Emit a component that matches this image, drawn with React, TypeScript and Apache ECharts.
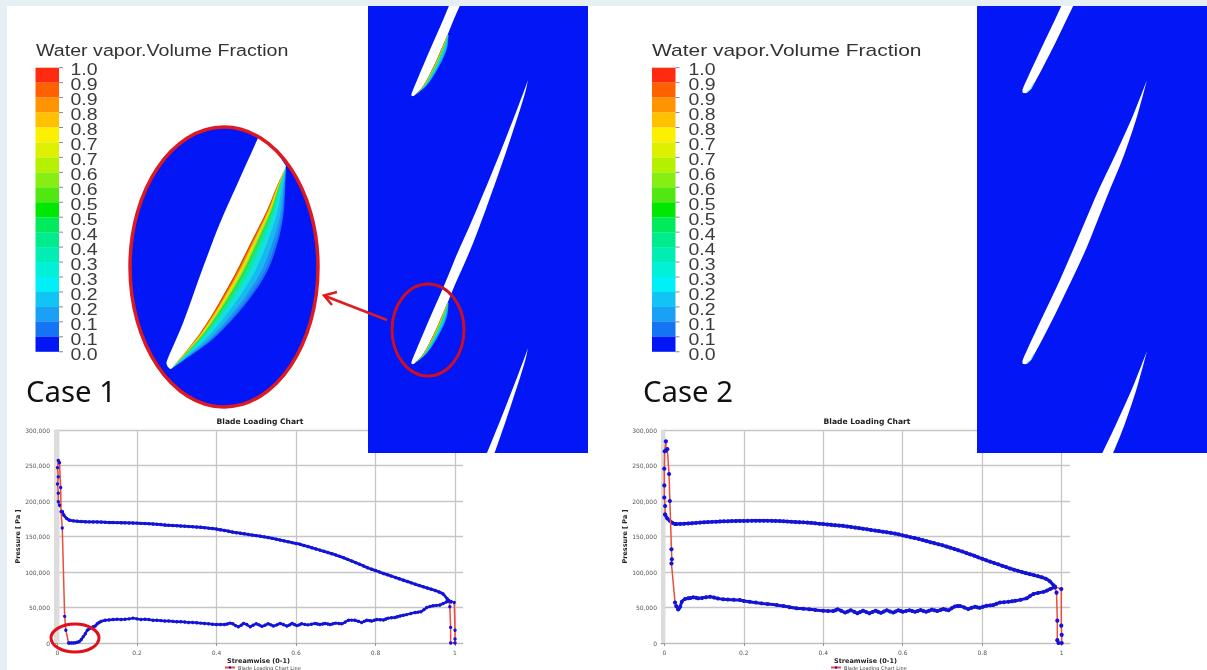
import React, { useEffect, useRef } from "react";
import * as echarts from "echarts";

const SERIES_NAME = "Blade Loading Chart Line";
const xTicks = [0, 0.2, 0.4, 0.6, 0.8, 1];
const legendLabels = ["1.0","0.9","0.9","0.8","0.8","0.7","0.7","0.6","0.6","0.5","0.5","0.4","0.4","0.3","0.3","0.2","0.2","0.1","0.1","0.0"];
const legendColors = ["#ff2a10","#ff6000","#ff9400","#ffc000","#fbf000","#dcf000","#b4f000","#86ee10","#50e810","#00e800","#00ea5c","#00ec8c","#00eeb4","#00f0d8","#00f0f8","#12c4f4","#1aa0f4","#1474f4","#0216f6"];

const stations = [0.03,0.04,0.05,0.06,0.07,0.08,0.09,0.1,0.11,0.12,0.13,0.14,0.15,0.16,0.17,0.18,0.19,0.2,0.21,0.22,0.23,0.24,0.25,0.26,0.27,0.28,0.29,0.3,0.31,0.32,0.33,0.34,0.35,0.36,0.37,0.38,0.39,0.4,0.41,0.42,0.43,0.44,0.45,0.46,0.47,0.48,0.49,0.5,0.51,0.52,0.53,0.54,0.55,0.56,0.57,0.58,0.59,0.6,0.61,0.62,0.63,0.64,0.65,0.66,0.67,0.68,0.69,0.7,0.71,0.72,0.73,0.74,0.75,0.76,0.77,0.78,0.79,0.8,0.81,0.82,0.83,0.84,0.85,0.86,0.87,0.88,0.89,0.9,0.91,0.92,0.93,0.94,0.95,0.96,0.97,0.98];
// pressures in kPa
const case1Upper = [173,172,171.5,171,170.8,170.6,170.5,170.5,170.3,170,169.8,169.6,169.5,169.4,169.3,169.1,169,168.8,168.5,168.2,168,167.6,167.2,166.8,166.2,165.8,165.5,165.2,164.8,164.5,164.2,163.8,163.3,163,162.4,161.8,161.2,160.5,159.5,158.5,157.5,156.3,155.4,154.6,153.8,152.9,152,151.2,150.4,149.5,148.5,147.4,146.3,145,143.8,142.6,141.4,140.2,139,137.4,135.8,134.2,132.5,130.8,129.1,127.5,125.8,124,122,120,117.8,115.5,113.2,110.8,108.5,106,104,102,100,98,96.1,94.2,92.3,90.4,88.5,86.6,84.7,82.8,81,79.2,77.5,75.8,74,71.8,69,62.5];
const case2Upper = [167.5,167.8,168,168.4,168.8,169.2,169.6,170,170.3,170.6,170.9,171.2,171.4,171.6,171.8,171.9,172,172,172.1,172.2,172.3,172.3,172.3,172.2,172.1,172,171.7,171.4,171.1,170.8,170.5,170.2,169.9,169.6,169.2,168.6,168,167.5,167,166.4,165.9,165.4,165,164.2,163.4,162.6,161.8,161,160.2,159.3,158.4,157.6,156.8,156,155.1,154.1,153,151.6,150.3,149,147.8,146.5,145,143.5,142,140.6,139.1,137.6,135.8,134.2,132.4,130.6,128.8,126.8,124.8,122.8,120.6,118.6,116.6,114.6,112.6,110.8,108.8,107,105,103.3,101.6,100,98.4,97,95.6,94.2,92.6,90.6,87,81];
const case1UpperHead = [[0.012,185],[0.016,180],[0.023,175.5]];
const case1UpperTail = [[0.985,59.5],[0.99,58]];
const case2UpperHead = [[0.002,181],[0.0075,175.5],[0.014,172],[0.02,169.5],[0.027,167.5]];
const case2UpperTail = [[0.983,79]];
const case1Lower = [[0.03,0],[0.035,0],[0.04,0],[0.045,0.3],[0.05,1],[0.055,2.2],[0.06,5],[0.065,9],[0.07,13],[0.075,18],[0.08,20],[0.085,21.5],[0.09,23],[0.095,24],[0.1,27],[0.105,29],[0.11,30.5],[0.12,32],[0.13,32.5],[0.14,33],[0.15,33.5],[0.16,33],[0.17,33.5],[0.18,34],[0.19,35],[0.2,34],[0.21,33],[0.22,33.5],[0.23,33],[0.24,32],[0.25,32],[0.26,31.5],[0.27,31],[0.28,31],[0.29,30.5],[0.3,30],[0.31,30],[0.32,29.5],[0.33,29],[0.34,29],[0.35,28.5],[0.36,28],[0.37,27.5],[0.38,27],[0.39,26.5],[0.4,26],[0.41,26],[0.42,26],[0.427,26.8],[0.434,28],[0.441,27],[0.448,24.5],[0.455,23],[0.462,25],[0.468,27.5],[0.476,26],[0.485,23],[0.492,25],[0.5,27],[0.507,25.5],[0.514,23.5],[0.522,25],[0.53,27],[0.537,25.5],[0.543,24],[0.552,25.5],[0.56,27.5],[0.568,26],[0.577,24],[0.584,25.5],[0.59,27.5],[0.596,26],[0.602,24.5],[0.608,25.5],[0.614,27],[0.622,26.2],[0.63,25.5],[0.639,26.5],[0.648,27.5],[0.654,26.8],[0.66,26],[0.667,26.8],[0.673,27.5],[0.68,26.8],[0.686,26],[0.693,27],[0.7,28],[0.708,27.5],[0.715,27],[0.724,29.5],[0.732,32],[0.74,32.2],[0.748,32],[0.757,30.5],[0.765,29],[0.772,30.5],[0.778,32],[0.785,31.5],[0.79,31],[0.797,32],[0.803,33],[0.812,32.8],[0.82,32.5],[0.826,33.8],[0.832,35],[0.84,35.5],[0.849,36],[0.855,37],[0.862,38],[0.87,39],[0.878,40],[0.889,41.5],[0.9,43],[0.907,43.5],[0.914,44],[0.922,47],[0.929,50],[0.937,51.3],[0.945,52.5],[0.953,53],[0.962,53.5],[0.97,55.5],[0.979,58],[0.985,59]];
const case2Lower = [[0.035,47.5],[0.04,51],[0.044,58],[0.052,62],[0.06,63],[0.066,63.5],[0.073,64.5],[0.08,63.8],[0.085,63],[0.095,63.5],[0.105,64.5],[0.115,65],[0.125,64],[0.135,62.8],[0.148,61.5],[0.16,61.2],[0.175,60.8],[0.19,60.5],[0.2,59.2],[0.215,58],[0.23,57],[0.245,55.8],[0.26,55],[0.283,53.5],[0.3,52],[0.315,50.5],[0.333,49],[0.35,48.3],[0.365,47.5],[0.38,46.5],[0.4,45.5],[0.412,45.2],[0.425,45],[0.431,46.2],[0.436,47.5],[0.445,45.5],[0.455,43],[0.462,44.5],[0.469,46],[0.478,44],[0.486,42],[0.493,43.8],[0.5,45.5],[0.508,43.8],[0.516,42],[0.524,43.8],[0.532,45.5],[0.538,44],[0.545,42.5],[0.552,44.2],[0.56,46],[0.568,44.5],[0.576,43],[0.582,44.5],[0.589,46],[0.595,45],[0.6,44],[0.608,45],[0.617,46],[0.624,45],[0.631,44],[0.638,45.2],[0.645,46.5],[0.652,45.2],[0.659,44],[0.666,45.5],[0.673,47],[0.68,46],[0.687,45],[0.695,46.5],[0.702,48],[0.708,47],[0.715,46],[0.723,48.8],[0.731,51.5],[0.738,52],[0.744,52],[0.755,50],[0.765,48],[0.773,49.5],[0.782,51],[0.788,50.2],[0.794,49.5],[0.802,51],[0.811,52.5],[0.82,53],[0.828,53.5],[0.836,55.2],[0.845,57],[0.855,57.5],[0.866,58],[0.875,58.8],[0.883,59.5],[0.897,61],[0.912,63],[0.92,66],[0.929,69],[0.94,70.5],[0.954,72],[0.963,74],[0.971,76],[0.983,78.5]];
// leading-edge and trailing-edge legs, drawn with the red line
const case1Le = [[0.012,185],[0.005,194],[0.002,199],[0.002,211],[0,224],[0.002,234],[0,247],[0.002,257],[0.005,254],[0.008,219],[0.009,185],[0.012,162],[0.018,37.5],[0.021,18],[0.028,0]];
const case1Te = [[0.985,59],[0.987,51],[0.989,22],[0.989,0],[1,0],[1,5.6],[1,18],[0.998,57],[0.99,58]];
const case2Le = [[0.002,181],[0.002,193],[0,205],[0,222],[0,245.5],[0.001,270],[0.004,284],[0.004,271],[0.0075,273],[0.012,238],[0.014,200],[0.018,132],[0.019,118],[0.018,112],[0.027,57],[0.03,52],[0.035,47.5]];
const case2Te = [[0.983,78.5],[0.987,71],[0.989,31.5],[0.989,4],[0.992,0],[1,0],[1,11.5],[0.999,24.5],[0.999,76],[0.983,79]];

const toPa = (p: number[][]) => p.map(([x, k]) => [x, k * 1000]);
const withStations = (vals: number[]) => stations.map((x, i) => [x, vals[i]]);

type Pt = [number, number];
const BLUE = "#0216f6";
const Z = 100;

function clipY(points: Pt[], yMin: number, yMax: number): Pt[] {
  const clip = (pts: Pt[], inside: (p: Pt) => boolean, limit: number) => {
    const out: Pt[] = [];
    pts.forEach((p, i) => {
      const q = pts[(i + 1) % pts.length];
      if (inside(p)) out.push(p);
      if (inside(p) !== inside(q)) {
        const t = (limit - p[1]) / (q[1] - p[1]);
        out.push([p[0] + t * (q[0] - p[0]), limit]);
      }
    });
    return out;
  };
  return clip(clip(points, (p) => p[1] >= yMin, yMin), (p) => p[1] <= yMax, yMax);
}

// Catmull-Rom rounding of the outline drawings (blade silhouettes, not chart data)
function round(pts: Pt[], n = 6): Pt[] {
  const out: Pt[] = [];
  for (let i = 0; i < pts.length - 1; i++) {
    const p0 = pts[Math.max(i - 1, 0)];
    const p1 = pts[i];
    const p2 = pts[i + 1];
    const p3 = pts[Math.min(i + 2, pts.length - 1)];
    for (let k = 0; k < n; k++) {
      const t = k / n;
      const f = (a: number, b: number, c: number, d: number) =>
        0.5 * (2 * b + (c - a) * t + (2 * a - 5 * b + 4 * c - d) * t * t + (3 * b - a - 3 * c + d) * t * t * t);
      out.push([f(p0[0], p1[0], p2[0], p3[0]), f(p0[1], p1[1], p2[1], p3[1])]);
    }
  }
  out.push(pts[pts.length - 1]);
  return out;
}

const blade1Left: Pt[] = [[0,1],[-0.5,-1],[3,-10],[17,-43],[31.5,-76],[45.5,-110],[58,-138],[72,-171],[86,-205],[99,-238],[110.5,-268],[116,-283]];
const blade1Right: Pt[] = [[116,-283],[112.5,-268],[103,-238],[92,-205],[80,-171],[68,-138],[57,-110],[42,-76],[28.5,-43],[12,-10],[3,0],[0,1]];
const blade2Left: Pt[] = [[0,1],[-0.5,-2],[2.7,-10],[18,-43],[33.7,-76],[48.7,-110],[62.7,-143],[76.5,-175],[88.5,-200],[100,-225],[111,-250],[124,-283]];
const blade2Right: Pt[] = [[124,-283],[115,-250],[107,-225],[98,-200],[87.5,-175],[74.7,-143],[61.3,-110],[45.3,-76],[29.3,-43],[12,-10],[5,0],[0,1]];
const blade1 = [...round(blade1Left), ...round(blade1Right)];
const blade2 = [...round(blade2Left), ...round(blade2Right)];

const bandFractions: [number, string][] = [[1,"#1a6cf5"],[0.92,"#2090f0"],[0.8,"#18b8f0"],[0.6,"#14e0e0"],[0.42,"#10e8a0"],[0.3,"#30e040"],[0.22,"#b0e820"],[0.16,"#f0e000"],[0.1,"#f09000"],[0.05,"#e83a10"]];

const bandPolys = (edge: Pt[], outer: Pt[], z: number) =>
  bandFractions.map(([f, color], k) => ({
    type: "polygon",
    z: z + k,
    silent: true,
    shape: {
      points: [
        ...outer.map((o, i) => [edge[i][0] + f * (o[0] - edge[i][0]), edge[i][1] + f * (o[1] - edge[i][1])]),
        ...edge.slice().reverse(),
      ],
    },
    style: { fill: color, stroke: null },
  }));

const shift = (pts: Pt[], dx: number, dy: number): Pt[] => pts.map(([x, y]) => [x + dx, y + dy]);

const panelEdge = round([[3,0],[12,-10],[22.5,-30],[29.5,-46],[35.5,-60]]);
const panelOuter = round([[3,0],[16,-11],[28,-30],[35,-46],[36.5,-60]]);
const lensEdgeRaw: Pt[] = [[171,369],[187,350],[200,333],[213,313],[225,292],[237,270],[252,240],[267,210],[276,188],[286,166]];
const lensEdge = round(lensEdgeRaw);
const lensOuter = round([[171,369],[193,354],[212,340],[232,320],[251,297],[267,272],[277,245],[283,218],[285,192],[286,166]]);
const lensBladeLeft = round([[170,369],[167,365],[168,358],[183,323],[201,273],[220,223],[240,178],[258,138]]);
const lensBlade: Pt[] = [...lensBladeLeft, [274,148], ...lensEdge.slice().reverse()];

function buildGraphic() {
  const els: any[] = [];
  const add = (e: any) => els.push({ silent: true, z: Z, ...e });
  add({ type: "rect", shape: { x: 368, y: 6, width: 220, height: 447 }, style: { fill: BLUE } });
  add({ type: "rect", shape: { x: 977, y: 6, width: 230, height: 447 }, style: { fill: BLUE } });

  // Case 1 blades
  [-268, 0, 268].forEach((dy) => {
    add({ type: "polygon", z: Z + 2, shape: { points: clipY(shift(blade1, 412, 363 + dy), 6, 453) }, style: { fill: "#ffffff" } });
  });
  [-268, 0].forEach((dy) => {
    els.push(...bandPolys(shift(panelEdge, 412, 363 + dy), shift(panelOuter, 412, 363 + dy), Z + 3));
  });
  // Case 2 blades
  [-271, 0, 271].forEach((dy) => {
    add({ type: "polygon", z: Z + 2, shape: { points: clipY(shift(blade2, 1023, 363 + dy), 6, 453) }, style: { fill: "#ffffff" } });
  });
  [-271, 0].forEach((dy) => {
    add({ type: "polyline", z: Z + 3, shape: { points: shift([[4,0],[8,-3],[11,-9]], 1023, 363 + dy) }, style: { stroke: "#55e6d8", lineWidth: 1, fill: "none" } });
  });

  // magnified lens
  add({ type: "ellipse", z: Z + 15, shape: { cx: 224, cy: 267, rx: 94, ry: 140 }, style: { fill: BLUE } });
  els.push(...bandPolys(lensEdge, lensOuter, Z + 16));
  add({ type: "polygon", z: Z + 27, shape: { points: lensBlade }, style: { fill: "#ffffff" } });
  add({ type: "ellipse", z: Z + 28, shape: { cx: 224, cy: 267, rx: 94, ry: 140 }, style: { fill: "none", stroke: "#dc1a22", lineWidth: 3.5 } });
  // small lens, arrow, chart marker
  add({ type: "ellipse", z: Z + 28, shape: { cx: 428, cy: 330, rx: 36, ry: 46 }, style: { fill: "none", stroke: "#c81028", lineWidth: 3 } });
  add({ type: "line", z: Z + 28, shape: { x1: 387, y1: 320, x2: 325, y2: 296 }, style: { stroke: "#e01c1c", lineWidth: 2.5 } });
  add({ type: "polyline", z: Z + 28, shape: { points: [[337, 292], [324, 295.5], [332, 305]] }, style: { stroke: "#e01c1c", lineWidth: 2.5, fill: "none" } });
  add({ type: "ellipse", z: Z + 28, shape: { cx: 75, cy: 638, rx: 24, ry: 14 }, style: { fill: "none", stroke: "#e0101a", lineWidth: 3 } });

  // colour bars
  [{ bar: 35.5, lab: 70.5, title: 36, sx: 1.155 }, { bar: 652, lab: 688.5, title: 652, sx: 1.234 }].forEach((c) => {
    legendColors.forEach((color, i) => {
      add({ type: "rect", shape: { x: c.bar, y: 67.7 + i * 14.95, width: 23.5, height: 15 }, style: { fill: color } });
    });
    legendLabels.forEach((t, i) => {
      add({ type: "line", shape: { x1: c.bar + 23.5, y1: 67.7 + i * 14.95, x2: c.bar + 27.5, y2: 67.7 + i * 14.95 }, style: { stroke: "#888888", lineWidth: 1 } });
      add({ type: "text", x: c.lab, y: 70 + i * 14.95, scaleX: 1.18, style: { text: t, fontFamily: "Liberation Sans", fontSize: 16.5, fill: "#3c3c3c", align: "left", verticalAlign: "middle" } });
    });
    add({ type: "text", x: c.title, y: 50, scaleX: c.sx, style: { text: "Water vapor.Volume Fraction", fontFamily: "Liberation Sans", fontSize: 17, fill: "#333333", align: "left", verticalAlign: "middle" } });
  });
  add({ type: "text", x: 26, y: 391, style: { text: "Case 1", fontFamily: "Noto Sans", fontSize: 29.3, fill: "#111111", align: "left", verticalAlign: "middle" } });
  add({ type: "text", x: 643, y: 391, style: { text: "Case 2", fontFamily: "Noto Sans", fontSize: 29.3, fill: "#111111", align: "left", verticalAlign: "middle" } });

  // page frame
  add({ type: "rect", z: Z + 40, shape: { x: 0, y: 0, width: 1207, height: 6 }, style: { fill: "#e6f0f4" } });
  add({ type: "rect", z: Z + 40, shape: { x: 0, y: 0, width: 7, height: 670 }, style: { fill: "#e6f0f4" } });
  return els;
}

const LINE_BLUE = "#1414d8";
const LINE_RED = "#ee4a3e";
const AXIS_FONT = { fontFamily: "DejaVu Sans", fontSize: 6, color: "#555555" };

const xAxisFor = (gridIndex: number, min: number, max: number) => ({
  type: "value",
  gridIndex,
  min,
  max,
  name: "Streamwise (0-1)",
  nameLocation: "middle",
  nameGap: 14,
  nameTextStyle: { fontFamily: "DejaVu Sans", fontSize: 6.5, fontWeight: "bold", color: "#222222" },
  axisLine: { onZero: false, lineStyle: { color: "#bdbdbd", width: 1.2 } },
  axisTick: { show: true, length: 3, customValues: xTicks, lineStyle: { color: "#999999" } },
  axisLabel: { ...AXIS_FONT, margin: 6, customValues: xTicks, showMinLabel: true, showMaxLabel: true },
  splitLine: { show: true, lineStyle: { color: "#c6c6c6", width: 1.3 } },
});
const yAxisFor = (gridIndex: number, xName: number) => ({
  type: "value",
  gridIndex,
  min: 0,
  max: 300000,
  interval: 50000,
  name: "Pressure [ Pa ]",
  nameLocation: "middle",
  nameGap: xName,
  nameTextStyle: { fontFamily: "DejaVu Sans", fontSize: 6.5, fontWeight: "bold", color: "#222222" },
  axisLine: { show: true, lineStyle: { color: "#bdbdbd", width: 1.2 } },
  axisTick: { show: true, length: 3, lineStyle: { color: "#999999" } },
  minorTick: { show: true, splitNumber: 5, length: 2, lineStyle: { color: "#aaaaaa" } },
  axisLabel: { ...AXIS_FONT, margin: 4 },
  splitLine: { show: true, lineStyle: { color: "#c6c6c6", width: 1.3 } },
});

const curve = (idx: number, name: string, data: number[][], size: number, width: number) => ({
  type: "line",
  name,
  xAxisIndex: idx,
  yAxisIndex: idx,
  data,
  smooth: 0.3,
  symbol: "circle",
  symbolSize: size,
  showSymbol: true,
  showAllSymbol: true,
  lineStyle: { color: LINE_BLUE, width },
  itemStyle: { color: LINE_BLUE },
  z: 4,
});
const legs = (idx: number, data: number[][], size: number, band: number, zone: boolean) => ({
  type: "line",
  name: SERIES_NAME,
  xAxisIndex: idx,
  yAxisIndex: idx,
  data,
  symbol: "circle",
  symbolSize: size,
  showSymbol: true,
  showAllSymbol: true,
  lineStyle: { color: LINE_RED, width: 1.5 },
  itemStyle: { color: LINE_BLUE },
  z: 5,
  ...(zone
    ? { markArea: { silent: true, itemStyle: { color: "#dcdcdc" }, data: [[{ xAxis: -0.0088 }, { xAxis: band }]] } }
    : {}),
});

export default function App() {
  const ref = useRef<HTMLDivElement>(null);
  useEffect(() => {
    document.body.style.margin = "0";
    const chart = echarts.init(ref.current!, undefined, { renderer: "svg" });
    const titleStyle = { fontFamily: "DejaVu Sans", fontSize: 7.6, fontWeight: "bold", color: "#222222" };
    const legendStyle = {
      data: [SERIES_NAME],
      itemWidth: 10,
      itemHeight: 3,
      itemGap: 2,
      padding: 0,
      textStyle: { fontFamily: "DejaVu Sans", fontSize: 5, color: "#444444", padding: [0, 0, 0, -2] },
      selectedMode: false,
    };
    chart.setOption({
      animation: false,
      backgroundColor: "#ffffff",
      title: [
        { text: "Blade Loading Chart", left: 260, top: 417, textAlign: "center", padding: 0, textStyle: titleStyle },
        { text: "Blade Loading Chart", left: 867, top: 417, textAlign: "center", padding: 0, textStyle: titleStyle },
      ],
      legend: [
        { ...legendStyle, left: 224, top: 665 },
        { ...legendStyle, left: 830, top: 665 },
      ],
      grid: [
        { left: 54, top: 430, width: 409, height: 213, containLabel: false },
        { left: 661, top: 430, width: 409, height: 213, containLabel: false },
      ],
      xAxis: [xAxisFor(0, -0.0088, 1.0201), xAxisFor(1, -0.0083, 1.0209)],
      yAxis: [yAxisFor(0, 33), yAxisFor(1, 33)],
      series: [
        legs(0, toPa(case1Le), 3.4, 0.005, true),
        legs(0, toPa(case1Te), 3.4, 0, false),
        curve(0, "Case 1 suction side", toPa(case1Lower), 3.4, 2.4),
        curve(0, "Case 1 pressure side", toPa([...case1UpperHead, ...withStations(case1Upper), ...case1UpperTail]), 3.4, 2.8),
        legs(1, toPa(case2Le), 4.2, 0.002, true),
        legs(1, toPa(case2Te), 4.2, 0, false),
        curve(1, "Case 2 suction side", toPa(case2Lower), 4, 3),
        curve(1, "Case 2 pressure side", toPa([...case2UpperHead, ...withStations(case2Upper), ...case2UpperTail]), 4, 3.2),
      ],
      graphic: { elements: buildGraphic() },
    });
    return () => chart.dispose();
  }, []);
  return <div ref={ref} style={{ width: 1207, height: 670, filter: "blur(0.45px)", overflow: "hidden" }} />;
}
